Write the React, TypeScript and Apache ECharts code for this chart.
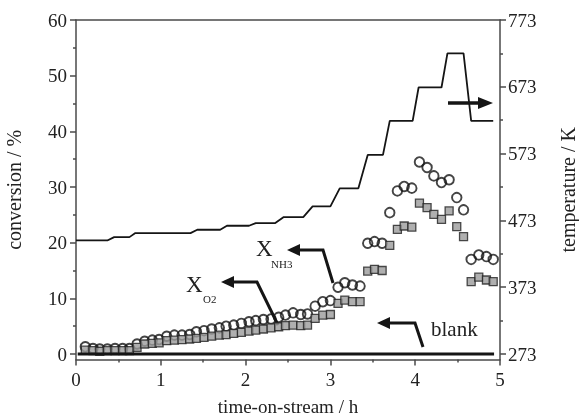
import React, { useEffect, useRef } from "react";
import * as echarts from "echarts";

// time-on-stream (h) of the conversion measurements
const times = [
  0.11, 0.2, 0.28, 0.37, 0.46, 0.55, 0.63, 0.72, 0.81, 0.9, 0.98, 1.07, 1.16, 1.25,
  1.34, 1.42, 1.51, 1.6, 1.69, 1.77, 1.86, 1.95, 2.04, 2.12, 2.21, 2.3, 2.39, 2.47,
  2.56, 2.65, 2.73, 2.82, 2.91, 3.0, 3.09, 3.17, 3.26, 3.35, 3.44, 3.52, 3.61, 3.7,
  3.79, 3.87, 3.96, 4.05, 4.14, 4.22, 4.31, 4.4, 4.49, 4.57, 4.66, 4.75, 4.84, 4.92,
];
// X_NH3 (open circles), %
const xNH3 = [
  1.3, 1.0, 0.9, 0.9, 1.0, 1.0, 1.0, 1.8, 2.3, 2.5, 2.6, 3.2, 3.4, 3.4,
  3.5, 4.0, 4.2, 4.5, 4.7, 5.0, 5.2, 5.5, 5.8, 6.0, 6.2, 6.3, 6.6, 7.0,
  7.4, 7.1, 7.2, 8.6, 9.4, 9.6, 12.0, 12.8, 12.4, 12.2, 19.9, 20.2, 19.9, 25.4,
  29.3, 30.1, 29.8, 34.5, 33.5, 32.0, 30.8, 31.3, 28.1, 25.9, 17.0, 17.8, 17.5, 17.0,
];
// X_O2 (grey squares), %
const xO2 = [
  0.7, 0.6, 0.5, 0.6, 0.6, 0.6, 0.6, 1.2, 1.8, 1.9, 2.0, 2.4, 2.5, 2.6,
  2.7, 2.8, 3.0, 3.2, 3.4, 3.5, 3.7, 3.9, 4.1, 4.3, 4.5, 4.7, 4.9, 5.1,
  5.2, 5.1, 5.2, 6.4, 7.0, 7.1, 9.1, 9.7, 9.4, 9.4, 14.9, 15.2, 15.0, 19.5,
  22.4, 23.0, 22.8, 27.1, 26.3, 25.1, 24.2, 25.7, 22.9, 21.1, 13.0, 13.8, 13.3, 13.0,
];
// blank run
const blankTimes = [0.02, 4.93];
const blankValues = [0, 0];
// temperature programme
const tempTimes = [
  0, 0.37, 0.45, 0.63, 0.7, 1.35, 1.43, 1.7, 1.78, 2.04, 2.12, 2.35, 2.45, 2.68,
  2.79, 3.0, 3.11, 3.33, 3.44, 3.62, 3.7, 3.97, 4.04, 4.31, 4.38, 4.57, 4.66, 4.92,
];
const tempValues = [
  443, 443, 448, 448, 454, 454, 459, 459, 465, 465, 469, 469, 478, 478,
  494, 494, 521, 521, 571, 571, 622, 622, 672, 672, 723, 723, 622, 622,
];
// tick labels
const convTicks = [0, 10, 20, 30, 40, 50, 60];
const convMinor = [5, 15, 25, 35, 45, 55];
const tempTicks = [273, 373, 473, 573, 673, 773];
const tempMinor = [323, 423, 523, 623, 723];

const FONT = '"Liberation Serif", "DejaVu Serif", serif';
const AX = "#4a4a4a";
const INK = "#151515";

export default function App() {
  const ref = useRef<HTMLDivElement>(null);
  useEffect(() => {
    if (!ref.current) return;
    const chart = echarts.init(ref.current, undefined, { renderer: "svg" });
    const zip = (a: number[], b: number[]) => a.map((v, i) => [v, b[i]]);
    const lineS = { color: AX, width: 1.5 };
    const label = { fontFamily: FONT, fontSize: 19, color: "#222" };
    const name = { fontFamily: FONT, fontSize: 20, color: "#222" };
    const tMin = 773 - (61 * 500) / 60;
    chart.setOption({
      animation: false,
      grid: { left: 76, right: 79, top: 20, bottom: 59.4, containLabel: false, outerBoundsMode: "none" },
      xAxis: [
        {
          type: "value", min: 0, max: 5, interval: 1, position: "bottom",
          axisLine: { show: true, onZero: false, lineStyle: lineS },
          axisTick: { show: true, length: 6, lineStyle: lineS },
          minorTick: { show: true, splitNumber: 2, length: 3, lineStyle: lineS },
          splitLine: { show: false },
          axisLabel: { ...label, margin: 10 },
          name: "time-on-stream / h", nameLocation: "middle", nameGap: 37,
          nameTextStyle: { ...name, fontSize: 19 },
        },
        {
          type: "value", min: 0, max: 5, position: "top",
          axisLine: { show: true, onZero: false, lineStyle: lineS },
          axisTick: { show: false }, axisLabel: { show: false }, splitLine: { show: false },
        },
      ],
      yAxis: [
        {
          type: "value", min: -1, max: 60, position: "left",
          axisLine: { show: true, onZero: false, lineStyle: lineS },
          axisTick: { show: true, length: 6, lineStyle: lineS, customValues: convTicks },
          axisLabel: { ...label, margin: 9, customValues: convTicks },
          splitLine: { show: false },
          name: "conversion / %", nameLocation: "middle", nameGap: 52, nameRotate: 90,
          nameTextStyle: name,
        },
        {
          type: "value", min: tMin, max: 773, position: "right",
          axisLine: { show: true, onZero: false, lineStyle: lineS },
          axisTick: { show: true, length: 6, lineStyle: lineS, customValues: tempTicks },
          axisLabel: { ...label, margin: 8, customValues: tempTicks },
          splitLine: { show: false },
          name: "temperature / K", nameLocation: "middle", nameGap: 58, nameRotate: 90,
          nameTextStyle: name,
        },
        {
          type: "value", min: -1, max: 60, position: "left",
          axisLine: { show: false, onZero: false },
          axisTick: { show: true, length: 3, lineStyle: lineS, customValues: convMinor },
          axisLabel: { show: false }, splitLine: { show: false },
        },
        {
          type: "value", min: tMin, max: 773, position: "right",
          axisLine: { show: false, onZero: false },
          axisTick: { show: true, length: 3, lineStyle: lineS, customValues: tempMinor },
          axisLabel: { show: false }, splitLine: { show: false },
        },
      ],
      series: [
        {
          name: "blank", type: "line", xAxisIndex: 0, yAxisIndex: 0,
          data: zip(blankTimes, blankValues), symbol: "none",
          lineStyle: { color: INK, width: 3 },
        },
        {
          name: "temperature", type: "line", xAxisIndex: 0, yAxisIndex: 1,
          data: zip(tempTimes, tempValues), symbol: "none",
          lineStyle: { color: INK, width: 1.8 },
        },
        {
          name: "X_NH3", type: "scatter", xAxisIndex: 0, yAxisIndex: 0,
          data: zip(times, xNH3), symbol: "circle", symbolSize: 9.5,
          itemStyle: { color: "rgba(255,255,255,0)", borderColor: INK, borderWidth: 1.9 },
        },
        {
          name: "X_O2", type: "scatter", xAxisIndex: 0, yAxisIndex: 0,
          data: zip(times, xO2), symbol: "rect", symbolSize: 8,
          itemStyle: { color: "#9b9b9b", borderColor: "#222", borderWidth: 1.3 },
        },
      ],
      graphic: [
        // arrow to right axis
        { type: "line", shape: { x1: 448, y1: 103, x2: 481, y2: 103 }, style: { stroke: INK, lineWidth: 3.5 } },
        { type: "polygon", shape: { points: [[478, 97], [493, 103], [478, 109]] }, style: { fill: INK } },
        // X_NH3 arrow
        { type: "polyline", shape: { points: [[333, 283], [323, 250], [298, 250]] }, style: { stroke: INK, lineWidth: 3, fill: null } },
        { type: "polygon", shape: { points: [[300, 244], [287, 250], [300, 256]] }, style: { fill: INK } },
        // X_O2 arrow
        { type: "polyline", shape: { points: [[278, 325], [257, 282], [232, 282]] }, style: { stroke: INK, lineWidth: 3, fill: null } },
        { type: "polygon", shape: { points: [[234, 276], [221, 282], [234, 288]] }, style: { fill: INK } },
        // blank arrow
        { type: "polyline", shape: { points: [[423, 347], [415, 323], [388, 323]] }, style: { stroke: INK, lineWidth: 3, fill: null } },
        { type: "polygon", shape: { points: [[390, 317], [377, 323], [390, 329]] }, style: { fill: INK } },
        // labels
        { type: "text", x: 256, y: 248, style: { text: "X", fontFamily: FONT, fontSize: 23, fill: "#222", align: "left", verticalAlign: "middle" } },
        { type: "text", x: 271, y: 264, style: { text: "NH3", fontFamily: FONT, fontSize: 11, fill: "#222", align: "left", verticalAlign: "middle" } },
        { type: "text", x: 186, y: 284, style: { text: "X", fontFamily: FONT, fontSize: 23, fill: "#222", align: "left", verticalAlign: "middle" } },
        { type: "text", x: 203, y: 299, style: { text: "O2", fontFamily: FONT, fontSize: 11, fill: "#222", align: "left", verticalAlign: "middle" } },
        { type: "text", x: 431, y: 329, style: { text: "blank", fontFamily: FONT, fontSize: 21, fill: "#222", align: "left", verticalAlign: "middle" } },
      ],
    });
    return () => chart.dispose();
  }, []);
  return (
    <div
      ref={ref}
      style={{ position: "fixed", left: 0, top: 0, width: 579, height: 419 }}
    />
  );
}
